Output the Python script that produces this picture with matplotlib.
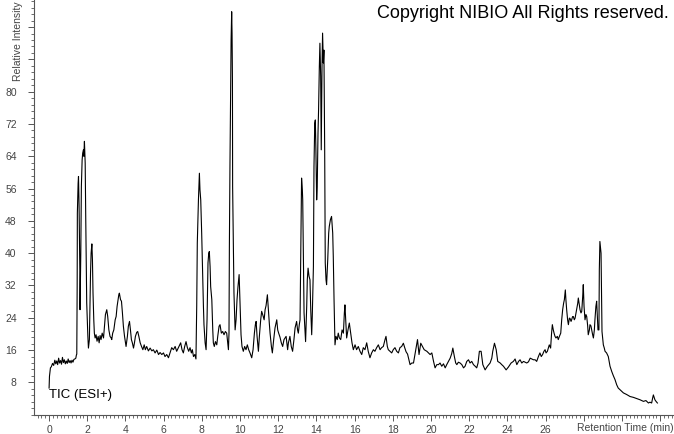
import matplotlib
matplotlib.use('Agg')
import matplotlib.pyplot as plt
import numpy as np
from matplotlib.ticker import MultipleLocator

plt.rcParams['font.family'] = ['Liberation Sans', 'DejaVu Sans']

# retention time (min) and relative intensity
rt_min = [
    0.00, 0.02, 0.07, 0.12, 0.18, 0.24, 0.30, 0.35, 0.40, 0.45, 0.50, 0.55, 0.60, 0.65, 0.70,
    0.75, 0.80, 0.85, 0.90, 0.95, 1.00, 1.05, 1.10, 1.15, 1.20, 1.25, 1.30, 1.35, 1.40, 1.43,
    1.45, 1.47, 1.48, 1.52, 1.54, 1.57, 1.61, 1.62, 1.66, 1.69, 1.73, 1.76, 1.80, 1.82, 1.85,
    1.89, 1.92, 1.97, 2.03, 2.06, 2.11, 2.17, 2.20, 2.24, 2.27, 2.30, 2.34, 2.37, 2.41, 2.46,
    2.51, 2.57, 2.62, 2.67, 2.72, 2.78, 2.85, 2.90, 2.95, 3.02, 3.07, 3.13, 3.19, 3.25, 3.28,
    3.33, 3.39, 3.46, 3.51, 3.56, 3.61, 3.65, 3.68, 3.74, 3.79, 3.84, 3.89, 3.95, 4.00, 4.03,
    4.10, 4.15, 4.21, 4.26, 4.31, 4.36, 4.42, 4.47, 4.52, 4.59, 4.64, 4.70, 4.77, 4.84, 4.91,
    4.98, 5.04, 5.11, 5.20, 5.29, 5.38, 5.46, 5.55, 5.64, 5.73, 5.81, 5.90, 5.99, 6.07, 6.16,
    6.25, 6.33, 6.42, 6.51, 6.60, 6.68, 6.77, 6.89, 6.96, 7.03, 7.10, 7.17, 7.24, 7.31, 7.38,
    7.45, 7.50, 7.56, 7.63, 7.69, 7.73, 7.76, 7.82, 7.87, 7.90, 7.94, 7.99, 8.03, 8.08, 8.11,
    8.17, 8.22, 8.27, 8.32, 8.36, 8.39, 8.43, 8.46, 8.52, 8.57, 8.60, 8.65, 8.71, 8.78, 8.83,
    8.90, 8.95, 9.02, 9.09, 9.16, 9.23, 9.30, 9.35, 9.39, 9.42, 9.44, 9.47, 9.51, 9.53, 9.56,
    9.58, 9.60, 9.61, 9.65, 9.68, 9.74, 9.79, 9.84, 9.89, 9.95, 10.00, 10.05, 10.10, 10.17, 10.24,
    10.31, 10.38, 10.45, 10.52, 10.61, 10.68, 10.75, 10.80, 10.84, 10.89, 10.96, 11.01, 11.08, 11.13, 11.19,
    11.26, 11.31, 11.36, 11.43, 11.48, 11.53, 11.57, 11.64, 11.69, 11.76, 11.83, 11.92, 11.97, 12.02, 12.09,
    12.16, 12.23, 12.30, 12.41, 12.49, 12.53, 12.61, 12.68, 12.75, 12.82, 12.88, 12.96, 13.01, 13.05, 13.10,
    13.14, 13.17, 13.21, 13.22, 13.26, 13.28, 13.31, 13.35, 13.40, 13.43, 13.49, 13.52, 13.56, 13.61, 13.66,
    13.70, 13.75, 13.78, 13.84, 13.87, 13.91, 13.94, 13.97, 14.01, 14.04, 14.08, 14.11, 14.15, 14.18, 14.22,
    14.25, 14.29, 14.32, 14.36, 14.39, 14.43, 14.46, 14.50, 14.53, 14.59, 14.64, 14.67, 14.73, 14.79, 14.85,
    14.88, 14.92, 14.97, 15.02, 15.09, 15.14, 15.20, 15.27, 15.34, 15.41, 15.46, 15.49, 15.53, 15.58, 15.65,
    15.72, 15.79, 15.86, 15.93, 16.02, 16.10, 16.19, 16.28, 16.37, 16.45, 16.54, 16.63, 16.71, 16.80, 16.89,
    16.98, 17.06, 17.15, 17.24, 17.33, 17.41, 17.50, 17.59, 17.64, 17.71, 17.76, 17.85, 17.94, 18.02, 18.11,
    18.20, 18.29, 18.37, 18.46, 18.55, 18.62, 18.69, 18.77, 18.84, 18.90, 18.99, 19.08, 19.17, 19.29, 19.37,
    19.46, 19.55, 19.64, 19.78, 19.95, 20.04, 20.13, 20.21, 20.30, 20.39, 20.47, 20.56, 20.65, 20.74, 20.82,
    20.91, 21.00, 21.08, 21.14, 21.22, 21.29, 21.35, 21.43, 21.52, 21.61, 21.70, 21.78, 21.87, 21.96, 22.04,
    22.13, 22.22, 22.31, 22.39, 22.46, 22.53, 22.62, 22.71, 22.83, 22.95, 23.09, 23.18, 23.23, 23.32, 23.41,
    23.49, 23.62, 23.70, 23.79, 23.93, 24.05, 24.19, 24.31, 24.40, 24.49, 24.58, 24.66, 24.75, 24.84, 24.93,
    25.01, 25.10, 25.19, 25.27, 25.36, 25.45, 25.53, 25.62, 25.70, 25.77, 25.84, 25.91, 25.97, 26.02, 26.09,
    26.14, 26.19, 26.26, 26.31, 26.35, 26.40, 26.44, 26.49, 26.54, 26.61, 26.66, 26.72, 26.79, 26.84, 26.89,
    26.94, 26.98, 27.03, 27.06, 27.10, 27.15, 27.19, 27.24, 27.27, 27.33, 27.36, 27.41, 27.45, 27.50, 27.54,
    27.59, 27.62, 27.68, 27.71, 27.76, 27.80, 27.85, 27.89, 27.94, 27.97, 28.01, 28.06, 28.11, 28.15, 28.20,
    28.23, 28.29, 28.32, 28.37, 28.41, 28.46, 28.50, 28.55, 28.58, 28.63, 28.67, 28.71, 28.74, 28.79, 28.81,
    28.84, 28.88, 28.90, 28.93, 28.95, 29.02, 29.07, 29.11, 29.19, 29.28, 29.37, 29.46, 29.54, 29.63, 29.72,
    29.80, 29.89, 29.98, 30.07, 30.24, 30.42, 30.59, 30.77, 30.94, 31.12, 31.25, 31.38, 31.46, 31.55, 31.60,
    31.64, 31.69, 31.72, 31.78, 31.85,
]
rel_int = [
    6.6, 9.5, 11.6, 11.9, 12.7, 12.2, 13.5, 12.6, 13.3, 12.4, 14.0, 12.8, 13.4, 12.5, 14.2,
    12.9, 13.6, 12.6, 13.3, 12.7, 13.8, 12.9, 13.4, 12.8, 13.5, 13.0, 13.7, 13.8, 14.0, 14.8,
    15.0, 31.8, 49.9, 57.3, 59.0, 51.6, 35.9, 26.0, 40.0, 56.5, 63.1, 64.8, 65.6, 64.0, 67.7,
    62.3, 48.3, 27.7, 19.4, 16.5, 18.6, 35.1, 40.0, 42.3, 38.4, 30.1, 23.5, 20.2, 19.0, 19.8,
    18.2, 19.4, 17.8, 19.6, 18.6, 20.2, 19.0, 21.9, 24.8, 26.0, 24.3, 21.0, 19.4, 19.0, 18.6,
    20.2, 21.0, 23.5, 24.3, 26.8, 28.5, 29.7, 30.1, 28.5, 28.1, 25.2, 21.9, 19.4, 17.8, 16.9,
    19.4, 21.9, 23.1, 21.0, 18.6, 17.8, 16.5, 17.8, 19.4, 20.4, 20.6, 19.4, 17.8, 16.9, 16.1,
    17.3, 16.1, 16.9, 15.8, 16.5, 15.8, 16.1, 15.3, 16.0, 14.9, 15.4, 14.9, 15.3, 14.4, 14.9,
    14.1, 15.3, 16.6, 16.1, 16.9, 15.7, 16.6, 17.8, 16.1, 15.3, 16.9, 18.1, 16.6, 15.7, 16.6,
    15.3, 16.1, 14.4, 14.9, 13.8, 27.0, 42.5, 53.2, 59.8, 55.7, 53.2, 44.9, 36.7, 27.0, 22.3,
    17.8, 16.1, 23.5, 37.6, 40.0, 40.4, 36.7, 31.7, 28.5, 21.0, 17.8, 16.9, 18.1, 17.3, 19.4,
    21.9, 22.3, 20.2, 20.6, 19.8, 20.6, 20.2, 17.8, 16.1, 20.2, 41.7, 61.5, 83.0, 92.8, 99.8,
    94.5, 83.0, 56.5, 42.5, 30.1, 21.0, 23.5, 28.5, 31.7, 34.7, 27.0, 19.8, 16.9, 15.7, 16.9,
    16.1, 17.3, 16.1, 15.3, 14.1, 16.1, 20.2, 22.3, 23.1, 19.4, 15.7, 19.4, 23.5, 25.6, 24.7,
    23.5, 26.0, 27.0, 29.7, 26.0, 22.7, 20.2, 16.9, 15.3, 18.6, 21.5, 23.5, 21.0, 20.2, 19.2,
    17.8, 16.9, 18.6, 19.4, 16.1, 17.8, 19.4, 16.9, 15.7, 18.6, 21.5, 23.1, 21.0, 20.2, 22.3,
    23.5, 36.7, 53.2, 58.6, 55.7, 53.2, 41.7, 25.2, 21.0, 18.1, 27.0, 33.4, 36.3, 34.3, 33.4,
    26.0, 19.8, 24.3, 36.7, 61.5, 72.2, 73.0, 65.6, 53.2, 56.5, 69.7, 75.5, 86.2, 92.0, 83.8,
    65.6, 86.2, 94.5, 87.1, 90.3, 65.6, 37.6, 33.4, 32.2, 38.4, 45.0, 46.6, 48.3, 49.1, 45.0,
    39.2, 28.5, 17.3, 19.4, 18.6, 20.2, 19.0, 18.6, 21.0, 20.2, 25.2, 27.2, 23.5, 19.0, 21.0,
    22.7, 20.2, 17.8, 16.1, 17.3, 16.1, 16.9, 15.7, 14.9, 16.6, 16.1, 17.8, 15.7, 14.1, 15.3,
    16.1, 15.7, 16.6, 17.3, 16.1, 16.6, 16.9, 18.6, 19.4, 16.9, 16.1, 15.7, 15.3, 16.1, 16.6,
    15.7, 15.3, 16.6, 16.9, 17.7, 16.6, 15.6, 15.0, 13.6, 12.4, 12.8, 12.8, 15.3, 18.6, 14.9,
    17.7, 16.9, 16.1, 15.7, 14.9, 15.3, 13.2, 11.6, 12.4, 12.4, 12.8, 12.0, 12.6, 11.6, 12.4,
    13.2, 14.0, 15.1, 16.5, 14.4, 12.8, 12.4, 13.0, 12.8, 12.4, 11.6, 12.0, 13.2, 13.6, 12.8,
    13.2, 12.4, 12.0, 11.6, 12.8, 15.7, 15.7, 12.4, 11.1, 12.0, 12.8, 14.0, 15.7, 17.7, 16.1,
    13.2, 12.8, 12.4, 12.0, 11.1, 11.8, 12.8, 13.2, 13.8, 12.4, 13.2, 13.6, 12.8, 13.2, 13.0,
    12.8, 13.1, 14.0, 13.8, 13.6, 13.6, 13.2, 14.4, 15.3, 14.4, 14.9, 15.7, 16.1, 15.3, 15.7,
    16.5, 17.3, 16.5, 20.2, 22.3, 21.0, 20.2, 19.4, 19.0, 19.4, 18.6, 19.4, 20.2, 23.5, 26.0,
    27.6, 28.5, 30.9, 28.5, 26.0, 23.5, 22.3, 23.9, 23.9, 23.1, 23.5, 24.3, 24.3, 23.5, 23.9,
    25.2, 26.0, 27.6, 28.9, 27.2, 26.0, 25.2, 25.6, 29.3, 32.2, 26.8, 23.5, 24.8, 24.3, 22.0,
    19.8, 21.0, 22.3, 22.0, 21.0, 19.8, 19.0, 21.0, 23.5, 26.8, 28.1, 24.3, 21.0, 21.0, 35.9,
    42.9, 40.8, 40.0, 27.6, 20.6, 17.3, 16.5, 15.7, 15.3, 14.4, 12.0, 10.7, 9.7, 8.7, 7.4,
    6.6, 6.2, 5.8, 5.4, 5.0, 4.5, 4.3, 4.0, 3.7, 3.3, 3.5, 2.9, 3.1, 2.9, 4.1,
    4.9, 4.1, 3.7, 3.3, 2.9,
]

x_major = list(range(0, 33, 2))
x_labels = [str(v) if v <= 26 else '' for v in x_major]
y_major = list(range(8, 97, 8))
y_labels = [str(v) if v <= 80 else '' for v in y_major]

W, H = 674, 434
fig = plt.figure(figsize=(W / 100, H / 100), dpi=100)
ax = fig.add_axes([34 / W, 19.3 / H, 1 - 34 / W, 1 - 19.3 / H])

ax.plot(rt_min, rel_int, color='black', lw=0.8)

ax.set_xlim(-0.79, 32.72)
ax.set_ylim(0, 102.7)

ax.set_xticks(x_major)
ax.set_xticklabels(x_labels)
ax.set_yticks(y_major)
ax.set_yticklabels(y_labels)
ax.xaxis.set_minor_locator(MultipleLocator(0.2))
ax.yaxis.set_minor_locator(MultipleLocator(1.6))

grey = '#555555'
ax.tick_params(which='major', length=4.5, width=0.7, color=grey,
               labelsize=7.5, labelcolor='#444444')
ax.tick_params(which='minor', length=2.2, width=0.6, color=grey)
ax.tick_params(axis='y', which='major', pad=8)
ax.tick_params(axis='x', which='major', pad=3)

for s in ['top', 'right']:
    ax.spines[s].set_visible(False)
for s in ['left', 'bottom']:
    ax.spines[s].set_color(grey)
    ax.spines[s].set_linewidth(0.8)

fig.text(18 / W, 1 - 1 / H, 'Relative Intensity', rotation=90, ha='center', va='top',
         fontsize=7.5, color='#444444')
fig.text(577 / W, 1 - 428 / H, 'Retention Time (min)', ha='left', va='center',
         fontsize=7.5, color='#444444')
fig.text(377 / W, 1 - 14 / H, 'Copyright NIBIO All Rights reserved.', ha='left', va='center',
         fontsize=13, color='black')
fig.text(49 / W, 1 - 395 / H, 'TIC (ESI+)', ha='left', va='center',
         fontsize=9.5, color='black')

fig.savefig('out.png', dpi=100)
